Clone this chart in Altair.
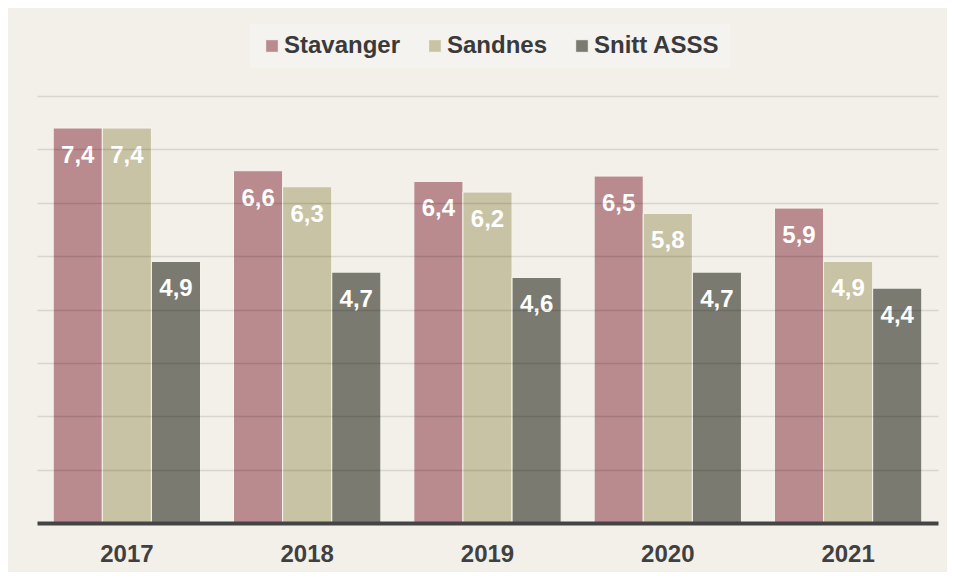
import altair as alt
import pandas as pd

years = ["2017", "2018", "2019", "2020", "2021"]
series = ["Stavanger", "Sandnes", "Snitt ASSS"]
stavanger = [7.4, 6.6, 6.4, 6.5, 5.9]
sandnes = [7.4, 6.3, 6.2, 5.8, 4.9]
snitt = [4.9, 4.7, 4.6, 4.7, 4.4]
colors = ["#b98a8e", "#c9c3a5", "#7a7a70"]

rows = []
for s, vals in zip(series, [stavanger, sandnes, snitt]):
    for y, v in zip(years, vals):
        rows.append({"year": y, "series": s, "value": v,
                     "label": f"{v:.1f}".replace(".", ",")})
df = pd.DataFrame(rows)

FONT = "Liberation Sans"
FS = 24

x = alt.X("year:N", title=None, sort=years,
          scale=alt.Scale(paddingInner=0.183, paddingOuter=0.09),
          axis=alt.Axis(labelFont=FONT, labelFontSize=FS, labelFontWeight="bold",
                        labelColor="#404040", labelPadding=19, ticks=False,
                        domainColor="#444444", domainWidth=4, labelAngle=0,
                        zindex=2))
y = alt.Y("value:Q", title=None, scale=alt.Scale(domain=[0, 8], nice=False),
          axis=alt.Axis(labels=False, ticks=False, domain=False, grid=True,
                        tickCount=8, gridColor="#000000", gridOpacity=0.11,
                        gridWidth=1.5, zindex=1))
xo = alt.XOffset("series:N", sort=series)

bars = alt.Chart(df).mark_bar(stroke="#f7f4ef", strokeWidth=1).encode(
    x=x, y=y, xOffset=xo,
    color=alt.Color("series:N", sort=series,
                    scale=alt.Scale(domain=series, range=colors),
                    legend=alt.Legend(title=None, orient="none", direction="horizontal",
                                      legendX=213, legendY=-72,
                                      labelFont=FONT, labelFontSize=FS,
                                      labelFontWeight="bold", labelColor="#3a3a3a",
                                      symbolType="square", symbolSize=160,
                                      symbolStrokeWidth=1, symbolStrokeColor="#f7f4ef",
                                      labelOffset=0, columnPadding=22,
                                      padding=10,
                                      fillColor="#f5f3ef")),
)

text = alt.Chart(df).mark_text(font=FONT, fontSize=FS, fontWeight="bold",
                               color="white", baseline="middle", dy=28).encode(
    x=x, y=y, xOffset=xo, text="label:N"
)

chart = alt.layer(bars, text).properties(
    width=901, height=427,
    background="#f3f0ea",
    padding={"left": 29, "top": 88, "right": 9, "bottom": 49},
    autosize=alt.AutoSizeParams(type="none"),
).configure_view(stroke=None)

chart.save("out.html", embed_options={"renderer": "svg", "actions": False})
